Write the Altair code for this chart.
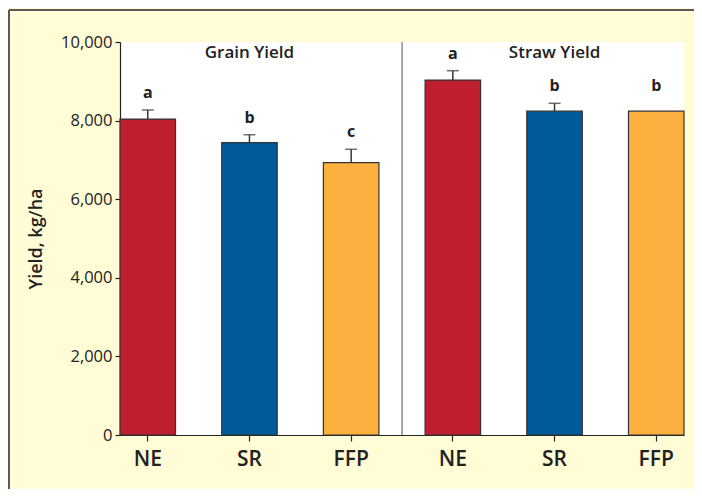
import altair as alt
import pandas as pd

# ---- data ----
panels = ["Grain Yield"] * 3 + ["Straw Yield"] * 3
treatments = ["NE", "SR", "FFP", "NE", "SR", "FFP"]
means = [8040, 7440, 6930, 9030, 8240, 8240]
errors = [230, 200, 340, 240, 200, 0]
letters = ["a", "b", "c", "a", "b", "b"]
colors = ["#BE1E2D", "#005A9A", "#FBB040"]
yticks = [0, 2000, 4000, 6000, 8000, 10000]

keys = [p + "|" + t for p, t in zip(panels, treatments)]
df = pd.DataFrame({
    "key": keys,
    "panel": panels,
    "treat": treatments,
    "mean": means,
    "err": errors,
    "letter": letters,
})
df["top"] = df["mean"] + df["err"]
df["labtop"] = df["mean"] + df["err"].clip(lower=200)

FONT = "Open Sans"
DARK = "#222222"

xscale = alt.Scale(domain=keys, paddingInner=0.454, paddingOuter=0)
yscale = alt.Scale(domain=[0, 10000], nice=False)

X = alt.X("key:N", scale=xscale, sort=keys,
          axis=alt.Axis(title=None, labelExpr="split(datum.label, '|')[1]",
                        labelAngle=0, labelFontSize=21, labelFontWeight=600,
                        labelColor=DARK, labelFont=FONT, tickSize=6,
                        tickColor=DARK, domainColor=DARK, labelPadding=7,
                        domainWidth=1.2, tickWidth=1.2))

bars = alt.Chart(df).mark_bar(stroke="#333333", strokeWidth=1.2).encode(
    x=X,
    y=alt.Y("mean:Q", scale=yscale,
            axis=alt.Axis(values=yticks, format=",.0f", title="Yield, kg/ha",
                          titleFontSize=18, titleFontWeight=600, titleFont=FONT,
                          titleColor=DARK, titlePadding=15,
                          labelFontSize=16.5, labelFont=FONT, labelColor=DARK,
                          labelFontWeight=500,
                          tickSize=5, tickColor=DARK, domainColor=DARK,
                          domainWidth=1.2, tickWidth=1.2, labelPadding=3)),
    color=alt.Color("treat:N", scale=alt.Scale(domain=["NE", "SR", "FFP"], range=colors),
                    legend=None),
)

errdf = df[df["err"] > 0]
err_rule = alt.Chart(errdf).mark_rule(color="#333333", strokeWidth=1.5).encode(
    x=alt.X("key:N", scale=xscale, sort=keys),
    y=alt.Y("mean:Q", scale=yscale),
    y2="top:Q",
)
err_cap = alt.Chart(errdf).mark_tick(color="#333333", thickness=1.5, size=12,
                                     orient="horizontal").encode(
    x=alt.X("key:N", scale=xscale, sort=keys),
    y=alt.Y("top:Q", scale=yscale),
)

labels = alt.Chart(df).mark_text(font=FONT, fontSize=16, fontWeight=700,
                                 color=DARK, dy=-17, baseline="middle").encode(
    x=alt.X("key:N", scale=xscale, sort=keys),
    y=alt.Y("labtop:Q", scale=yscale),
    text="letter:N",
)

titles_df = pd.DataFrame({"key": ["Grain Yield|SR", "Straw Yield|SR"],
                          "title": ["Grain Yield", "Straw Yield"]})
ptitles = alt.Chart(titles_df).mark_text(font=FONT, fontSize=17, fontWeight=600,
                                         color=DARK, baseline="middle").encode(
    x=alt.X("key:N", scale=xscale, sort=keys),
    y=alt.value(11),
    text="title:N",
)

sep = alt.Chart(pd.DataFrame({"key": ["Straw Yield|NE"]})).mark_rule(
    color="#8a8a8a", strokeWidth=1.5, xOffset=-23).encode(
    x=alt.X("key:N", scale=xscale, sort=keys, bandPosition=0),
    y=alt.value(0), y2=alt.value(393),
)

frame_v = alt.Chart(pd.DataFrame({"a": [0]})).mark_rule(color="#5a5a5a", strokeWidth=2).encode(
    x=alt.value(-111), y=alt.value(-32), y2=alt.value(460))
frame_h = alt.Chart(pd.DataFrame({"a": [0]})).mark_rule(color="#5a5a5a", strokeWidth=2).encode(
    x=alt.value(-111), x2=alt.value(600), y=alt.value(-32))

chart = alt.layer(frame_v, frame_h, bars, err_rule, err_cap, labels, ptitles, sep).properties(
    width=564, height=393,
    autosize=alt.AutoSizeParams(type="none"),
    padding={"left": 112, "top": 34, "right": 10, "bottom": 54},
    background="#FFFCD6",
).configure_view(fill="white", stroke=None).configure_axis(grid=False)

chart.save("out.html", embed_options={"renderer": "svg", "actions": False})
